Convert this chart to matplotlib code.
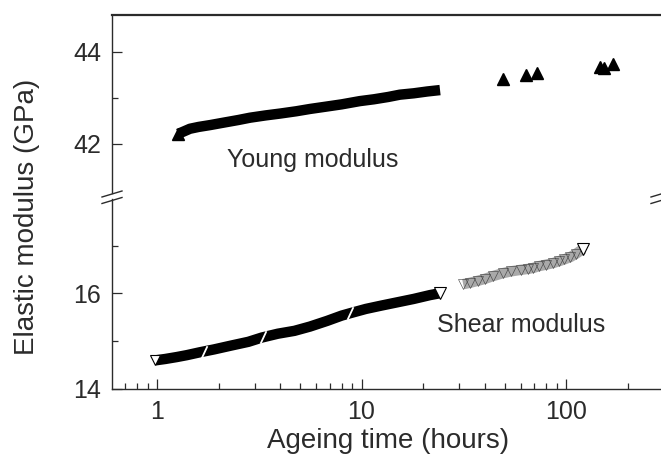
import numpy as np
import matplotlib
matplotlib.use("Agg")
import matplotlib.pyplot as plt
import matplotlib.ticker as mticker
from matplotlib.lines import Line2D

plt.rcParams['font.family'] = ['Liberation Sans', 'DejaVu Sans']

# Young modulus, dense run (hours, GPa)
young_t = [1.27, 1.35, 1.45, 1.6, 1.82, 2.1, 2.5, 2.85, 3.4, 4.0, 4.8,
           5.6, 6.7, 8.0, 9.8, 11.5, 13.5, 15.4, 18, 21, 24.2]
young_E = [42.22, 42.27, 42.33, 42.37, 42.41, 42.46, 42.52, 42.57, 42.62, 42.66, 42.71,
           42.76, 42.81, 42.86, 42.93, 42.97, 43.02, 43.07, 43.10, 43.14, 43.17]
# Young modulus, isolated points
young_t2 = [49, 64, 72, 147, 154, 169]
young_E2 = [43.41, 43.50, 43.54, 43.68, 43.65, 43.74]

# Shear modulus, first run
shear_t = [0.98, 1.1, 1.25, 1.4, 1.62, 1.9, 2.3, 2.8, 3.26, 3.9, 4.7,
           5.6, 6.8, 8.0, 8.8, 10.5, 12.5, 15, 18, 21.6, 24.2]
shear_E = [14.59, 14.62, 14.66, 14.70, 14.76, 14.82, 14.90, 14.98, 15.07, 15.15, 15.21,
           15.30, 15.42, 15.53, 15.58, 15.67, 15.74, 15.81, 15.88, 15.96, 16.00]
shear_gaps = [1.7, 3.3, 8.8]
shear_gaps_E = [14.77, 15.08, 15.58]
# Shear modulus, second run
shear2_t = [31.4, 34, 37, 40, 44, 49, 54, 60, 65, 69, 74, 80, 86, 92, 98, 105, 112, 121]
shear2_E = [16.19, 16.22, 16.26, 16.30, 16.36, 16.42, 16.46, 16.49, 16.51, 16.53,
            16.57, 16.60, 16.63, 16.67, 16.71, 16.76, 16.83, 16.93]

W, H = 661, 457
fig = plt.figure(figsize=(W / 100, H / 100), dpi=100)
left = 112 / W
y_top, y_brk, y_bot = 1 - 15 / H, 1 - 196 / H, 1 - 388.5 / H
ax_t = fig.add_axes([left, y_brk, 1 - left, y_top - y_brk])
ax_b = fig.add_axes([left, y_bot, 1 - left, y_brk - y_bot])

ink = '#2b2b2b'
for ax in (ax_t, ax_b):
    ax.set_xscale('log')
    ax.set_xlim(0.603, 291)
    ax.spines['right'].set_visible(False)
    for s in ax.spines.values():
        s.set_color(ink)
        s.set_linewidth(1.0)
    ax.tick_params(which='both', direction='in', colors=ink, labelsize=18, width=0.9)
    ax.tick_params(which='major', length=7, pad=8)
    ax.tick_params(which='minor', length=4)

# top panel
ax_t.set_ylim(40.87, 44.8)
ax_t.spines['bottom'].set_visible(False)
ax_t.spines['top'].set_linewidth(1.6)
ax_t.spines['left'].set_bounds(40.93, 44.8)
ax_t.set_yticks([42, 44])
ax_t.set_yticks([43], minor=True)
ax_t.tick_params(axis='x', which='both', bottom=False, top=False, labelbottom=False)

ax_t.plot(young_t, young_E, color='k', lw=7.5, solid_capstyle='butt')
ax_t.plot(young_t[:1], young_E[:1], '^', color='k', ms=8)
ax_t.plot(young_t2, young_E2, '^', color='k', ms=8)
ax_t.text(2.2, 41.5, 'Young modulus', fontsize=18, color=ink)

# bottom panel
ax_b.set_ylim(14, 18.04)
ax_b.spines['top'].set_visible(False)
ax_b.spines['left'].set_bounds(14, 17.98)
ax_b.set_yticks([14, 16])
ax_b.set_yticks([15, 17], minor=True)
ax_b.xaxis.set_major_formatter(mticker.FuncFormatter(lambda v, p: f'{v:g}'))
ax_b.xaxis.set_minor_formatter(mticker.NullFormatter())

ax_b.plot(shear_t, shear_E, color='k', lw=7.5, solid_capstyle='butt')
ax_b.plot(shear_gaps, shear_gaps_E, marker=(2, 0, -25), ls='none',
          mec='white', mew=1.3, ms=10)
ax_b.plot(shear_t[:1], shear_E[:1], 'v', mfc='white', mec='k', mew=0.8, ms=7)
ax_b.plot(shear_t[-1:], shear_E[-1:], 'v', mfc='white', mec='k', mew=0.8, ms=8)
ax_b.plot(shear2_t, shear2_E, color='#a9a9a9', lw=7.5, solid_capstyle='butt')
ax_b.plot(shear2_t, shear2_E, 'v', mfc='none', mec='#3a3a3a', mew=0.4, ms=7)
ax_b.plot(shear2_t[-1:], shear2_E[-1:], 'v', mfc='white', mec='k', mew=0.8, ms=8)
ax_b.text(23.4, 15.18, 'Shear modulus', fontsize=18, color=ink)

# break marks
for xc in (112, 661):
    for yc in (194, 200.5):
        fig.add_artist(Line2D([(xc - 10) / W, (xc + 10) / W],
                              [1 - (yc + 3) / H, 1 - (yc - 3) / H],
                              color=ink, lw=1.0))

fig.text(27 / W, 1 - 217 / H, 'Elastic modulus (GPa)', rotation=90,
         ha='center', va='center', fontsize=20, color=ink)
fig.text(388 / W, 1 - 448 / H, 'Ageing time (hours)', ha='center',
         va='baseline', fontsize=20, color=ink)

fig.savefig('out.png', dpi=100)
